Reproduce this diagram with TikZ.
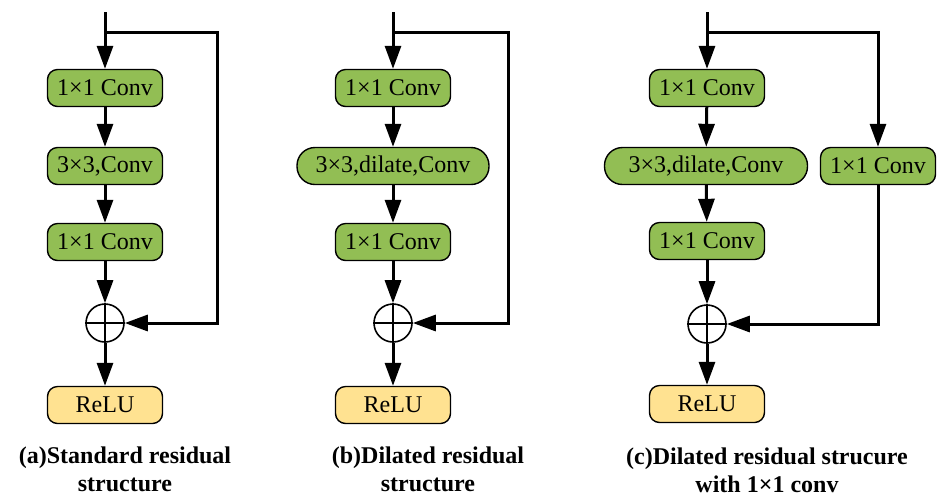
\documentclass[tikz,border=0pt]{standalone}
\usepackage{fontspec}
\setmainfont{Liberation Serif}
\usepackage{tikz}
\usetikzlibrary{arrows.meta, calc}
\definecolor{convgreen}{RGB}{146, 190, 84}
\definecolor{reluyellow}{RGB}{255, 226, 145}

\begin{document}
\begin{tikzpicture}[
    x=0.5pt, y=-0.5pt,
    every node/.style={font=\fontsize{12}{14}\selectfont},
    convbox/.style={rectangle, draw=black, fill=convgreen, rounded corners=5pt, minimum width=57.5pt, minimum height=18.5pt, inner sep=0pt, line width=0.7pt},
    dilbox/.style={convbox, rounded corners=9pt},
    relubox/.style={convbox, fill=reluyellow},
    sumnode/.style={circle, draw=black, minimum size=19pt, inner sep=0pt, line width=0.8pt},
    caption/.style={font=\fontsize{12}{14}\selectfont\bfseries, align=center},
    arrow/.style={-{Triangle[length=11.5pt, width=8pt]}, line width=1.5pt},
    line/.style={line width=1.5pt}
]
\useasboundingbox (0,0) rectangle (937,495);

% (a) Standard residual
\coordinate (a-in) at (105,12);
\coordinate (a-br) at (105,32);
\node[convbox] (a1) at (105,88) {1×1 Conv};
\node[convbox] (a2) at (105,166) {3×3,Conv};
\node[convbox] (a3) at (105,242) {1×1 Conv};
\node[sumnode] (asum) at (105,323) {};
\node[relubox] (ar) at (105,405) {ReLU};
\coordinate (a-skip) at (217,323);
\node[caption] (acap) at (125,469) {(a)Standard residual\\structure};

% (b) Dilated residual
\coordinate (b-in) at (393,12);
\coordinate (b-br) at (393,32);
\node[convbox] (b1) at (393,88) {1×1 Conv};
\node[dilbox, minimum width=96pt] (b2) at (393,166) {3×3,dilate,Conv};
\node[convbox] (b3) at (393,242) {1×1 Conv};
\node[sumnode] (bsum) at (393,323) {};
\node[relubox] (br) at (393,405) {ReLU};
\coordinate (b-skip) at (508,323);
\node[caption] (bcap) at (428,469) {(b)Dilated residual\\structure};

% (c) Dilated residual with 1x1 conv
\coordinate (c-in) at (707,12);
\coordinate (c-br) at (707,32);
\node[convbox] (c1) at (707,88) {1×1 Conv};
\node[dilbox, minimum width=101.5pt] (c2) at (706,166) {3×3,dilate,Conv};
\node[convbox] (c3) at (707,241) {1×1 Conv};
\node[sumnode] (csum) at (707,324) {};
\node[relubox] (cr) at (707,404) {ReLU};
\node[convbox] (c4) at (878,166) {1×1 Conv};
\node[caption] (ccap) at (767,470) {(c)Dilated residual strucure\\with 1×1 conv};

% plus signs
\foreach \s in {asum, bsum, csum} {
  \draw[line width=0.8pt] (\s.north) -- (\s.south);
  \draw[line width=0.8pt] (\s.west) -- (\s.east);
}

% Arrows
\draw[arrow] (a-in) -- (a1);
\draw[arrow] (a1) -- (a2);
\draw[arrow] (a2) -- (a3);
\draw[arrow] (a3) -- (asum);
\draw[arrow] (asum) -- (ar);
\draw[arrow] (a-br) -| (a-skip) -- (asum);

\draw[arrow] (b-in) -- (b1);
\draw[arrow] (b1) -- (b2);
\draw[arrow] (b2) -- (b3);
\draw[arrow] (b3) -- (bsum);
\draw[arrow] (bsum) -- (br);
\draw[arrow] (b-br) -| (b-skip) -- (bsum);

\draw[arrow] (c-in) -- (c1);
\draw[arrow] (c1) -- (c2);
\draw[arrow] (c2) -- (c3);
\draw[arrow] (c3) -- (csum);
\draw[arrow] (csum) -- (cr);
\draw[arrow] (c-br) -| (c4);
\draw[arrow] (c4) |- (csum);

\end{tikzpicture}
\end{document}
